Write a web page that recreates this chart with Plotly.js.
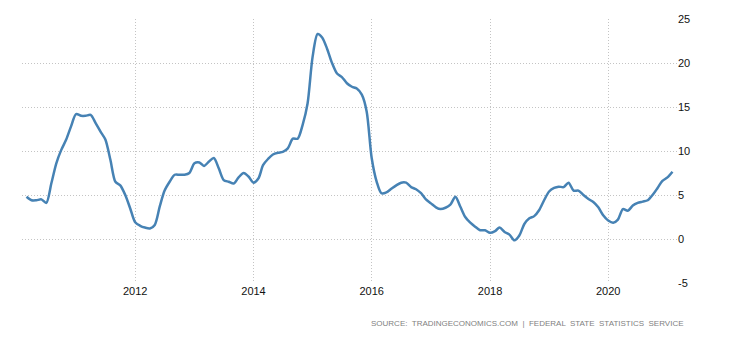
<!DOCTYPE html>
<html>
<head>
<meta charset="utf-8">
<script src="https://cdn.plot.ly/plotly-3.0.1.min.js"></script>
<style>
html,body{margin:0;padding:0;background:#fff;}
#chart{width:730px;height:340px;}
</style>
</head>
<body>
<div id="chart"></div>
<script>
// Monthly values, March 2010 – February 2021
const startYear = 2010;
const startMonth = 3;
const values = [
  // 2010 Mar-Dec
  4.8, 4.4, 4.4, 4.5, 4.1, 6.3, 8.6, 10.1, 11.3, 12.8,
  // 2011
  14.2, 14.0, 14.0, 14.1, 13.2, 12.2, 11.3, 9.0, 6.5, 6.1, 5.0, 3.5,
  // 2012
  1.9, 1.5, 1.3, 1.2, 1.6, 3.7, 5.5, 6.5, 7.3, 7.3, 7.3, 7.5,
  // 2013
  8.6, 8.7, 8.3, 8.8, 9.2, 8.0, 6.7, 6.5, 6.3, 7.0, 7.5, 7.1,
  // 2014
  6.4, 6.9, 8.4, 9.1, 9.6, 9.8, 9.9, 10.3, 11.4, 11.4, 13.0, 15.4,
  // 2015
  20.7, 23.3, 22.9, 21.6, 20.0, 18.8, 18.4, 17.7, 17.3, 17.1, 16.4, 14.5,
  // 2016
  9.2, 6.5, 5.2, 5.3, 5.7, 6.1, 6.4, 6.4, 5.9, 5.65, 5.2, 4.5,
  // 2017
  4.05, 3.6, 3.4, 3.55, 3.9, 4.8, 3.7, 2.5, 1.85, 1.4, 1.0, 1.0,
  // 2018
  0.7, 0.9, 1.3, 0.8, 0.5, -0.15, 0.4, 1.7, 2.35, 2.6, 3.3, 4.4,
  // 2019
  5.4, 5.8, 5.95, 5.9, 6.4, 5.5, 5.5, 5.0, 4.55, 4.2, 3.6, 2.7,
  // 2020
  2.1, 1.85, 2.2, 3.4, 3.2, 3.8, 4.1, 4.25, 4.4, 5.0, 5.8, 6.6,
  // 2021 Jan-Feb
  7.0, 7.65
];
const yTicks = [-5, 0, 5, 10, 15, 20, 25];
const yTickLabels = ['-5', '0', '5', '10', '15', '20', '25'];
const xTickYears = ['2012', '2014', '2016', '2018', '2020'];
const sourceText = 'SOURCE:  TRADINGECONOMICS.COM  |  FEDERAL  STATE  STATISTICS  SERVICE';

const dates = values.map((v, i) => {
  const m0 = startMonth - 1 + i;
  const y = startYear + Math.floor(m0 / 12);
  const m = (m0 % 12) + 1;
  return y + '-' + String(m).padStart(2, '0') + '-01';
});

const trace = {
  x: dates,
  y: values,
  type: 'scatter',
  mode: 'lines',
  line: {color: '#4682b4', width: 2.5, shape: 'spline', smoothing: 0.8},
  hoverinfo: 'x+y'
};

const layout = {
  width: 730,
  height: 340,
  margin: {l: 22, r: 53, t: 19, b: 57},
  paper_bgcolor: '#ffffff',
  plot_bgcolor: '#ffffff',
  showlegend: false,
  font: {family: 'Liberation Sans, Arial, sans-serif', size: 11, color: '#111'},
  xaxis: {
    type: 'date',
    range: ['2010-02-01', '2021-03-01'],
    tickvals: xTickYears.map(y => y + '-01-01'),
    ticktext: xTickYears,
    showgrid: true,
    gridcolor: '#c4c4c4',
    griddash: '1px,2px',
    gridwidth: 1,
    zeroline: false,
    showline: false,
    ticks: '',
    tickfont: {size: 11, color: '#111'}
  },
  yaxis: {
    side: 'right',
    range: [-5, 25],
    tickvals: yTicks,
    ticktext: yTickLabels,
    showgrid: true,
    gridcolor: '#c4c4c4',
    griddash: '1px,2px',
    gridwidth: 1,
    zeroline: false,
    showline: false,
    ticks: '',
    tickfont: {size: 11, color: '#111'}
  },
  annotations: [{
    text: sourceText,
    xref: 'paper', yref: 'paper',
    x: 1.0135, y: -0.155,
    xanchor: 'right', yanchor: 'middle',
    showarrow: false,
    font: {family: 'Liberation Sans, Arial, sans-serif', size: 8, color: '#7f7f7f'}
  }]
};

Plotly.newPlot('chart', [trace], layout, {displayModeBar: false, staticPlot: true});
</script>
</body>
</html>
